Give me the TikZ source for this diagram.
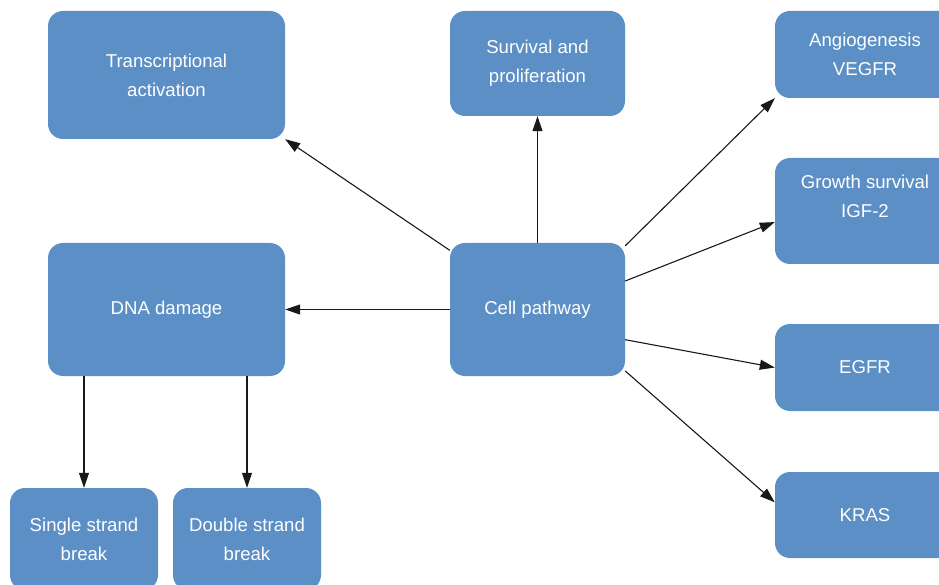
\documentclass[tikz,border=0pt]{standalone}
\usepackage{fontspec}
\setmainfont{Liberation Sans}
\usetikzlibrary{arrows.meta}
\definecolor{boxblue}{RGB}{91,143,197}

\begin{document}
\begin{tikzpicture}[
    x=1pt, y=-1pt,
    box/.style={rectangle, rounded corners=15pt, fill=boxblue, text=white, align=center, inner sep=0pt, font=\fontsize{18.6}{29}\selectfont},
    link/.style={-{Triangle[length=15pt,width=10pt]}, line width=1.1pt, black!90}
]
    \useasboundingbox (0,0) rectangle (939,585);

    % Cell pathway and DNA damage
    \node[box, minimum width=175pt, minimum height=133pt] (cell) at (537.5, 309.5) {Cell pathway};
    \node[box, minimum width=237pt, minimum height=133pt] (dna) at (166.5, 309.5) {DNA damage};

    % top row
    \node[box, minimum width=237pt, minimum height=128pt] (trans) at (166.5, 75) {Transcriptional\\activation};
    \node[box, minimum width=175pt, minimum height=105pt] (surv) at (537.5, 63.5) {Survival and\\proliferation};

    % right column
    \node[box, minimum width=180pt, minimum height=87pt] (angio) at (865, 54.5) {Angiogenesis\\VEGFR};
    \node[box, minimum width=180pt, minimum height=106pt, text depth=30pt] (growth) at (865, 211) {Growth survival\\IGF-2};
    \node[box, minimum width=180pt, minimum height=87pt] (egfr) at (865, 367.5) {EGFR};
    \node[box, minimum width=180pt, minimum height=86pt] (kras) at (865, 515) {KRAS};

    % strand breaks
    \node[box, minimum width=148pt, minimum height=102pt] (single) at (84, 539) {Single strand\\break};
    \node[box, minimum width=148pt, minimum height=102pt] (double) at (247, 539) {Double strand\\break};

    \draw[link] (cell.146) -- (trans.south east);
    \draw[link] (cell.north) -- (surv.south);
    \draw[link] (cell.36) -- (angio.south west);
    \draw[link] (cell.18) -- (growth.187);
    \draw[link] (cell.west) -- (dna.east);
    \draw[link] (cell.341) -- (egfr.west);
    \draw[link] (cell.325) -- (kras.172);

    \draw[link] (single.north |- dna.south) -- (single.north);
    \draw[link] (double.north |- dna.south) -- (double.north);
\end{tikzpicture}
\end{document}
